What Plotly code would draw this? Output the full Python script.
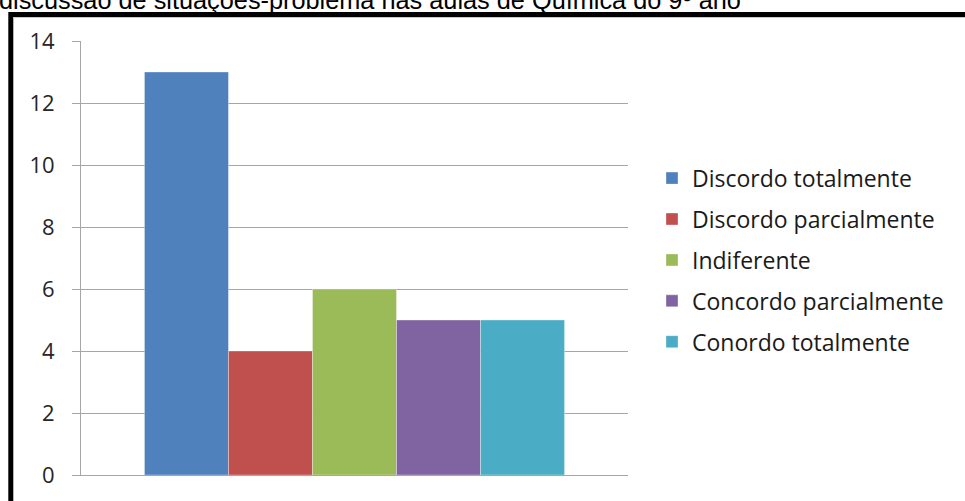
import plotly.graph_objects as go

# Survey answers (Likert scale) and the number of students for each answer
categories = [
    "Discordo totalmente",
    "Discordo parcialmente",
    "Indiferente",
    "Concordo parcialmente",
    "Conordo totalmente",
]
counts = [13, 4, 6, 5, 5]
colors = ["#4F81BD", "#C0504D", "#9BBB59", "#8064A2", "#4BACC6"]
y_ticks = [0, 2, 4, 6, 8, 10, 12, 14]
title_text = "discussão de situações-problema nas aulas de Química do 9º ano"

W, H = 965, 501
L, R, T, B = 81, 337, 41, 21
pw, ph = W - L - R, H - T - B


def px_x(px):
    return (px - L) / pw


def px_y(py):
    return (H - B - py) / ph


fig = go.Figure()
for i, (name, val, col) in enumerate(zip(categories, counts, colors)):
    fig.add_trace(go.Bar(
        x=[0], y=[val], name=name, legendgroup=f"g{i}",
        marker=dict(color=col, line=dict(color="rgba(255,255,255,0.35)", width=1)),
    ))

# frame around the chart (only its left and top edges fall on the page)
fig.add_shape(type="path", xref="paper", yref="paper",
              path=f"M {px_x(10.8)} {px_y(560)} L {px_x(10.8)} {px_y(14.3)} L {px_x(1000)} {px_y(14.3)}",
              line=dict(color="black", width=5))
fig.add_shape(type="line", xref="paper", yref="paper",
              x0=px_x(13.3), x1=px_x(1000), y0=px_y(17.3), y1=px_y(17.3),
              line=dict(color="#C8C8C8", width=1))

fig.add_annotation(text=title_text, xref="paper", yref="paper",
                   x=px_x(-3), y=px_y(16), xanchor="left", yanchor="bottom",
                   showarrow=False, font=dict(family="Liberation Sans", size=25.3, color="black"))

fig.update_layout(
    width=W, height=H,
    margin=dict(l=L, r=R, t=T, b=B, pad=0),
    paper_bgcolor="white", plot_bgcolor="white",
    barmode="group", bargap=0.232, bargroupgap=0,
    showlegend=True,
    legend=dict(x=px_x(652), y=px_y(158), xanchor="left", yanchor="top",
                traceorder="grouped", tracegroupgap=8,
                font=dict(family="Open Sans", size=23, color="#1a1a1a"),
                bgcolor="rgba(0,0,0,0)"),
    xaxis=dict(range=[-0.5, 0.5], showticklabels=False, showgrid=False, zeroline=False,
               showline=True, linecolor="#A6A6A6", linewidth=1, ticks=""),
    yaxis=dict(range=[0, 14], tickvals=y_ticks, showgrid=True, gridcolor="#A6A6A6", gridwidth=1,
               zeroline=False, showline=True, linecolor="#A6A6A6", linewidth=1,
               ticks="outside", ticklen=8, tickcolor="#A6A6A6", ticklabelstandoff=13,
               tickfont=dict(family="Open Sans", size=22, color="#262626")),
)

fig.write_html("out.html")
